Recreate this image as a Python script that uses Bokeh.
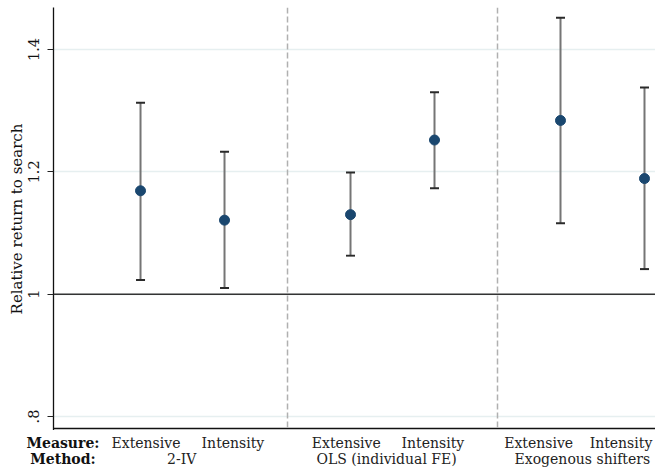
from bokeh.plotting import figure
from bokeh.models import Span, FixedTicker, Range1d
from bokeh.layouts import column
from bokeh.core.properties import value
from bokeh.embed import file_html
from bokeh.resources import INLINE

# ---- data ----
x_pos = [1.0, 2.0, 3.5, 4.5, 6.0, 7.0]
estimate = [1.169, 1.121, 1.130, 1.252, 1.284, 1.189]
ci_upper = [1.313, 1.233, 1.199, 1.330, 1.452, 1.338]
ci_lower = [1.023, 1.010, 1.063, 1.173, 1.116, 1.041]

measure_labels = ["Extensive", "Intensity", "Extensive", "Intensity", "Extensive", "Intensity"]
method_labels = ["2-IV", "OLS (individual FE)", "Exogenous shifters"]
row_titles = ["Measure:", "Method:"]
separators = [2.75, 5.25]
y_ticks = [0.8, 1.0, 1.2, 1.4]
y_tick_labels = [".8", "1", "1.2", "1.4"]
reference_line = 1.0

# ---- label placement (layout) ----
measure_label_x = [1.065, 2.10, 3.45, 4.48, 5.74, 6.72]
method_label_x = [1.49, 3.93, 6.26]
row_title_x = [0.077, 0.077]
row_y = [26, 10]

FONT = "DejaVu Serif"
FS = "14px"
NAVY = "#1a476f"
X0, X1 = -0.036, 7.131
PX_PER_X = 84.0

p = figure(width=655, height=430, output_backend="svg", toolbar_location=None,
           x_range=Range1d(X0, X1), y_range=Range1d(0.77711, 1.46866),
           min_border_left=53, min_border_right=0, min_border_top=7, min_border_bottom=0)
p.outline_line_color = None
p.background_fill_color = "white"
p.border_fill_color = "white"
p.xaxis.visible = False

# grid
p.xgrid.grid_line_color = None
p.ygrid.ticker = FixedTicker(ticks=y_ticks)
p.ygrid.grid_line_color = "#e6eff0"
p.ygrid.grid_line_width = 1.5

# y axis
p.yaxis.ticker = FixedTicker(ticks=y_ticks)
p.yaxis.major_label_overrides = dict(zip(y_ticks, y_tick_labels))
p.yaxis.major_label_orientation = "parallel"
p.yaxis.major_label_text_font = FONT
p.yaxis.major_label_text_font_size = "14.5px"
p.yaxis.major_label_text_color = "#111111"
p.yaxis.major_label_standoff = 8
p.yaxis.major_tick_out = 6
p.yaxis.major_tick_in = 0
p.yaxis.major_tick_line_color = "#222222"
p.yaxis.minor_tick_line_color = None
p.yaxis.axis_line_color = "#111111"
p.yaxis.axis_line_width = 1.3
p.yaxis.axis_label = "Relative return to search"
p.yaxis.axis_label_text_font = FONT
p.yaxis.axis_label_text_font_style = "normal"
p.yaxis.axis_label_text_font_size = "15px"
p.yaxis.axis_label_text_color = "#111111"
p.yaxis.axis_label_standoff = 0

# bottom axis line (drawn as a span just above frame bottom)
p.add_layout(Span(location=0.78038, dimension="width", line_color="#111111", line_width=1.3))

# reference lines
p.add_layout(Span(location=reference_line, dimension="width", line_color="#333333", line_width=1.5))
for s in separators:
    p.add_layout(Span(location=s, dimension="height", line_color="#b0b0b0",
                      line_width=1.5, line_dash="6 3"))

# error bars
p.segment(x0=x_pos, y0=ci_lower, x1=x_pos, y1=ci_upper, line_color="#757575", line_width=2)
p.scatter(x=x_pos, y=ci_upper, marker="dash", size=9, line_color="#2a2a2a", line_width=2)
p.scatter(x=x_pos, y=ci_lower, marker="dash", size=9, line_color="#2a2a2a", line_width=2)

# points
p.scatter(x=x_pos, y=estimate, size=10, fill_color=NAVY, line_color=NAVY)

# ---- label strip below the plot ----
lab = figure(width=655, height=38, output_backend="svg", toolbar_location=None,
             x_range=Range1d(X0 - 53 / PX_PER_X, X1), y_range=Range1d(0, 38),
             min_border_left=0, min_border_right=0, min_border_top=0, min_border_bottom=0)
lab.axis.visible = False
lab.grid.grid_line_color = None
lab.outline_line_color = None
lab.background_fill_color = "white"
lab.border_fill_color = "white"

for fig in (p, lab):
    try:
        fig.frame_align = False
    except Exception:
        pass

lab.text(x=row_title_x, y=row_y, text=row_titles, text_align="center", text_baseline="middle",
         text_font=value(FONT), text_font_size=FS, text_font_style="bold", text_color="#111111")
lab.text(x=measure_label_x, y=[row_y[0]] * len(measure_labels), text=measure_labels,
         text_align="center", text_baseline="middle",
         text_font=value(FONT), text_font_size=FS, text_color="#222222")
lab.text(x=method_label_x, y=[row_y[1]] * len(method_labels), text=method_labels,
         text_align="center", text_baseline="middle",
         text_font=value(FONT), text_font_size=FS, text_color="#222222")

layout = column(p, lab, spacing=0)
open("out.html", "w").write(file_html(layout, INLINE))
